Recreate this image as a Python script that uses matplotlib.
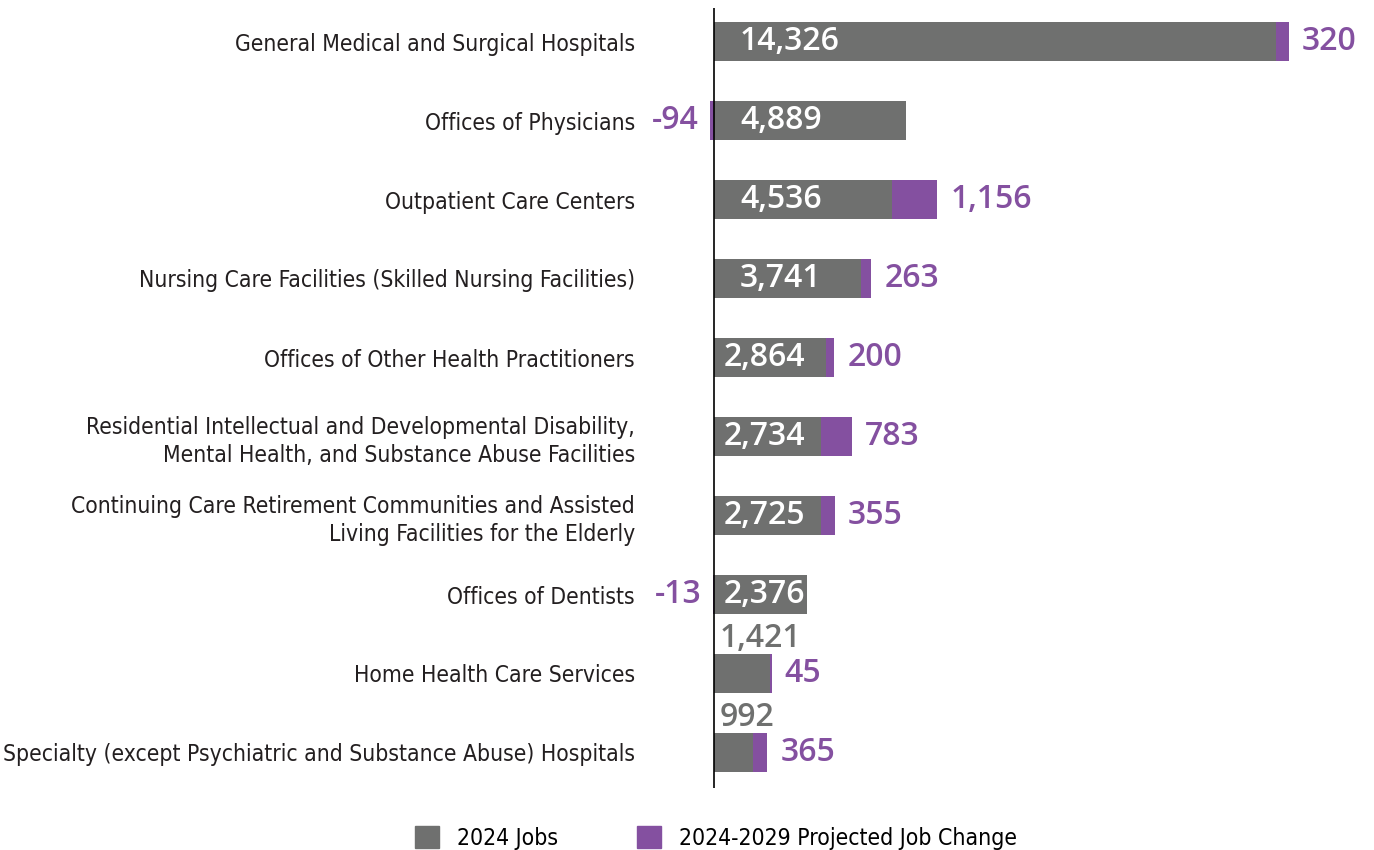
import matplotlib
matplotlib.use("Agg")
import matplotlib.pyplot as plt
from matplotlib.patches import Patch

categories = [
    "General Medical and Surgical Hospitals",
    "Offices of Physicians",
    "Outpatient Care Centers",
    "Nursing Care Facilities (Skilled Nursing Facilities)",
    "Offices of Other Health Practitioners",
    "Residential Intellectual and Developmental Disability,\nMental Health, and Substance Abuse Facilities",
    "Continuing Care Retirement Communities and Assisted\nLiving Facilities for the Elderly",
    "Offices of Dentists",
    "Home Health Care Services",
    "Specialty (except Psychiatric and Substance Abuse) Hospitals",
]
jobs_2024 = [14326, 4889, 4536, 3741, 2864, 2734, 2725, 2376, 1421, 992]
job_change = [320, -94, 1156, 263, 200, 783, 355, -13, 45, 365]
legend_labels = ["2024 Jobs", "2024-2029 Projected Job Change"]

GRAY = "#6f706f"
PURPLE = "#8450a0"
VALUE_FONT = ["Open Sans", "DejaVu Sans"]
label_style = dict(family=["DejaVu Sans"], stretch="condensed", fontsize=16.4,
                   color="#231f20", linespacing=1.3)

W, H, DPI = 1374, 850, 100
fig = plt.figure(figsize=(W / DPI, H / DPI), dpi=DPI)

# axes placed in pixels: zero line at x=714, rows 79 px apart
px_per_unit = (1276.7 - 714.3) / 14326
ax_left_px = 705
ax = fig.add_axes([ax_left_px / W, (H - 788) / H, (W - ax_left_px) / W, 780 / H])
ax.set_xlim(-(714 - ax_left_px) / px_per_unit, (W - 714) / px_per_unit)
ax.set_ylim((788 - 41.5) / 79, (8 - 41.5) / 79)

rows = list(range(len(categories)))
bar_h = 39 / 79
ax.barh(rows, jobs_2024, height=bar_h, color=GRAY)
starts = [j if c > 0 else 0 for j, c in zip(jobs_2024, job_change)]
ax.barh(rows, job_change, left=starts, height=bar_h, color=PURPLE, clip_on=False)
ax.axvline(0, color="black", lw=1.2)

for s in ax.spines.values():
    s.set_visible(False)
ax.set_xticks([])
ax.set_yticks(rows)
ax.set_yticklabels(categories, **label_style)
ax.tick_params(axis="y", length=0, pad=(714 - 635 - (714 - ax_left_px)) * 72 / DPI)

to_pt = 72 / DPI
val_style = dict(fontsize=23, family=VALUE_FONT, weight="semibold", va="center",
                 textcoords="offset points")
for i, (j, c) in enumerate(zip(jobs_2024, job_change)):
    label = f"{j:,}"
    if j >= 2300:
        off = 26 if j >= 3000 else 10
        ax.annotate(label, (0, i), xytext=(off * to_pt, 0), ha="left", color="white", **val_style)
    else:
        # bar too short, label sits above it
        ax.annotate(label, (0, i), xytext=(6 * to_pt, 35 * to_pt), ha="left", color=GRAY, **val_style)
    if c > 0:
        ax.annotate(f"{c:,}", (j + c, i), xytext=(13 * to_pt, 0), ha="left", color=PURPLE, **val_style)
    else:
        ax.annotate(f"{c:,}", (c, i), xytext=(-12 * to_pt, 0), ha="right", color=PURPLE, **val_style)

handles = [Patch(color=GRAY), Patch(color=PURPLE)]
fig.legend(handles, legend_labels, loc="center", bbox_to_anchor=(716 / W, 1 - 838 / H),
           ncol=2, frameon=False,
           prop={"family": "DejaVu Sans", "stretch": "condensed", "size": 16.5},
           handlelength=1.05, handleheight=1.1, columnspacing=3.4, handletextpad=0.8)

fig.savefig("out.png", dpi=DPI)
